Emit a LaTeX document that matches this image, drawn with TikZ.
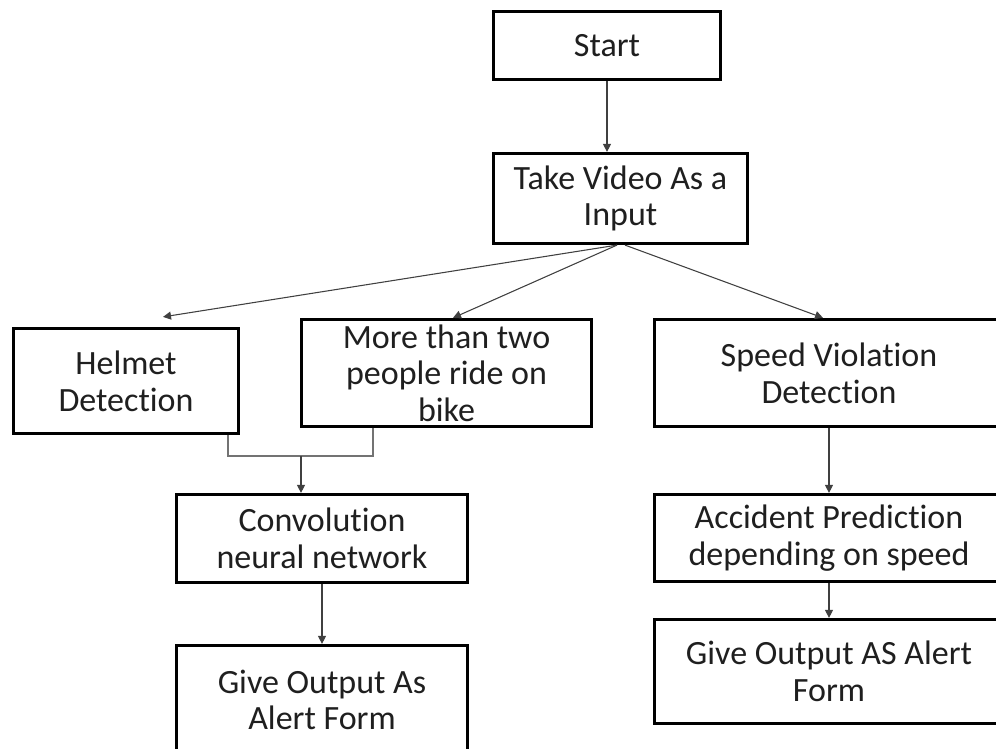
\documentclass[tikz,border=0pt]{standalone}
\usepackage{fontspec}
\setmainfont{Carlito}[Ligatures={NoCommon}]
\usetikzlibrary{arrows.meta,calc}

\begin{document}
\begin{tikzpicture}[x=0.75pt,y=0.75pt,yscale=-1,xscale=1,
        box/.style={draw=black, line width=2.4pt, fill=white, inner sep=0pt, align=center, text=black!88, font=\fontsize{25.5}{27.5}\selectfont},
        link/.style={draw=black!75, line width=0.8pt},
        elbow/.style={draw=black!55, line width=0.8pt},
        arrow/.style={link, -{Triangle[length=6pt,width=6pt]}}]
        \useasboundingbox (0,0) rectangle (996,749);
        \clip (0,0) rectangle (996,749);
        
        % Text Node
        \node [box, minimum width=170pt, minimum height=51pt] (start) at (607,45.5) {Start};
        % Text Node
        \node [box, minimum width=190.5pt, minimum height=67.5pt] (input) at (620.5,198.5) {Take Video As a\\Input};
        % Text Node
        \node [box, minimum width=168.75pt, minimum height=78.75pt] (helmet) at (126,381) {Helmet\\Detection};
        % Text Node
        \node [box, minimum width=217.5pt, minimum height=80.25pt] (riders) at (446.5,373) {More than two\\people ride on\\bike};
        % Text Node
        \node [box, minimum width=261.75pt, minimum height=80.25pt] (speed) at (829,373) {Speed Violation\\Detection};
        % Text Node
        \node [box, minimum width=218.25pt, minimum height=66pt] (cnn) at (322,538.5) {Convolution\\neural network};
        % Text Node
        \node [box, minimum width=218.25pt, minimum height=81.75pt] (alertl) at (322,700) {Give Output As\\Alert Form};
        % Text Node
        \node [box, minimum width=261.75pt, minimum height=65.25pt] (accident) at (829,538) {Accident Prediction\\depending on speed};
        % Text Node
        \node [box, minimum width=261.75pt, minimum height=78pt] (alertr) at (829,671.5) {Give Output AS Alert\\Form};
        
        %Shape: Arrows
        \coordinate (fork) at ($(input.south)+(-3.5,0)$);
        \coordinate (forkr) at ($(input.south)+(4.5,0)$);
        \coordinate (join) at (301,456);
        \draw [arrow] (start.south) -- (start.south |- input.north);
        \draw [arrow] (fork) -- ($(helmet.north)+(37,-10)$);
        \draw [arrow] (fork) -- ($(riders.north)+(6.5,0)$);
        \draw [arrow] (forkr) -- ($(speed.north)+(-6,0)$);
        %Shape: Elbow
        \draw [elbow] ($(helmet.south)+(102,0)$) |- (join);
        \draw [elbow] ($(riders.south)+(-73.5,0)$) |- (join);
        \draw [arrow] (join) -- (cnn.north -| join);
        \draw [arrow] (cnn) -- (alertl);
        \draw [arrow] (speed) -- (accident);
        \draw [arrow] (accident) -- (alertr);
        
\end{tikzpicture}
\end{document}
